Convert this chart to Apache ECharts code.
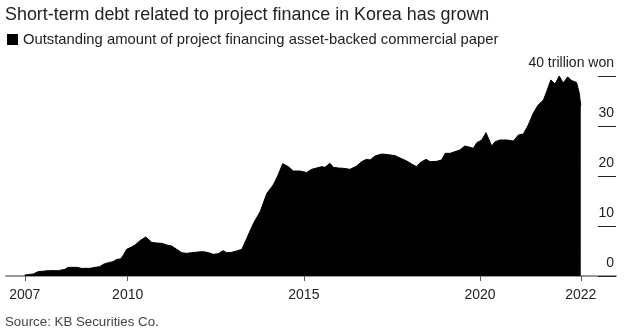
<!DOCTYPE html>
<html>
<head>
<meta charset="utf-8">
<script src="https://cdn.jsdelivr.net/npm/echarts@6/dist/echarts.min.js"></script>
<style>
html,body{margin:0;padding:0;background:#fff;}
#chart{width:626px;height:333px;}
</style>
</head>
<body>
<div id="chart"></div>
<script>
const titleText = "Short-term debt related to project finance in Korea has grown";
const legendText = "Outstanding amount of project financing asset-backed commercial paper";
const sourceText = "Source: KB Securities Co.";

const years = [2007.08,2007.32,2007.46,2007.75,2008.03,2008.22,2008.31,2008.55,2008.69,2008.93,
  2009.07,2009.21,2009.31,2009.45,2009.59,2009.69,2009.80,2009.88,2009.97,2010.11,
  2010.21,2010.35,2010.51,2010.58,2010.68,2010.82,2010.97,2011.11,2011.25,2011.39,
  2011.53,2011.67,2011.82,2011.86,2012.00,2012.15,2012.29,2012.43,2012.57,2012.71,
  2012.81,2012.95,2013.09,2013.24,2013.38,2013.57,2013.76,2013.95,2014.13,2014.27,
  2014.40,2014.56,2014.70,2014.89,2015.08,2015.22,2015.36,2015.51,2015.60,2015.74,
  2015.84,2015.98,2016.12,2016.31,2016.50,2016.64,2016.78,2016.88,2017.02,2017.21,
  2017.40,2017.59,2017.73,2017.92,2018.06,2018.20,2018.30,2018.47,2018.58,2018.77,
  2018.91,2019.01,2019.15,2019.29,2019.43,2019.57,2019.72,2019.81,2019.91,2020.05,
  2020.17,2020.33,2020.43,2020.57,2020.76,2020.95,2021.09,2021.23,2021.37,2021.51,
  2021.65,2021.80,2021.89,2022.01,2022.13,2022.25,2022.36,2022.49,2022.60,2022.74,
  2022.82,2022.86];
const values = [0.2,0.4,0.87,1.07,1.07,1.33,1.73,1.73,1.53,1.53,
  1.73,1.87,2.33,2.67,2.87,3.33,3.4,4.2,5.33,5.8,
  6.2,7.07,7.8,7.4,6.73,6.6,6.53,6.2,6.0,5.33,
  4.67,4.53,4.67,4.4,4.8,4.87,4.67,4.33,4.47,5.07,
  4.67,4.73,5.0,5.33,7.53,10.53,12.87,16.53,18.2,20.2,
  22.47,21.87,21.0,21.0,20.7,21.33,21.6,21.87,21.73,22.53,
  21.73,21.6,21.53,21.33,22.0,22.87,23.33,23.2,24.0,24.4,
  24.27,24.07,23.6,23.0,22.4,21.87,22.67,23.33,22.87,22.93,
  23.2,24.53,24.53,24.87,25.2,26.0,25.73,25.53,26.67,27.2,
  28.67,26.0,26.87,27.2,27.2,27.0,28.2,28.4,30.2,32.53,
  34.2,35.2,36.87,39.2,38.4,40.0,38.6,39.8,39.1,38.7,
  36.5,34.0];

const xTickValues = [2007.08, 2010, 2015, 2020, 2022.86];
const xTickLabels = ["2007", "2010", "2015", "2020", "2022"];
const yTickValues = [0, 10, 20, 30, 40];
const yTickLabels = ["0", "10", "20", "30", "40 trillion won"];

const data = years.map((y, i) => [y, values[i]]);
const FONT = "'Liberation Sans', Arial, sans-serif";

const chart = echarts.init(document.getElementById('chart'), null, {renderer: 'canvas'});
chart.setOption({
  animation: false,
  backgroundColor: '#fff',
  grid: {left: 6, right: 10, top: 76, bottom: 57, containLabel: false},
  title: [
    {text: titleText, left: 5, top: 6, padding: 0,
     textStyle: {fontFamily: FONT, fontSize: 17.9, fontWeight: 'normal', color: '#222'}},
    {text: legendText, left: 23, top: 32, padding: 0,
     textStyle: {fontFamily: FONT, fontSize: 14.8, fontWeight: 'normal', color: '#222'}},
    {text: sourceText, left: 5, top: 316, padding: 0,
     textStyle: {fontFamily: FONT, fontSize: 13.3, fontWeight: 'normal', color: '#444'}}
  ],
  graphic: [
    {type: 'rect', shape: {x: 7, y: 34, width: 11, height: 11}, style: {fill: '#000'}}
  ],
  xAxis: {
    type: 'value', min: 2006.546, max: 2023.86,
    axisLine: {show: true, lineStyle: {color: '#999', width: 2}},
    axisTick: {show: true, customValues: xTickValues, length: 5, lineStyle: {color: '#555', width: 1}},
    axisLabel: {
      show: true, customValues: xTickValues, margin: 12,
      fontFamily: FONT, fontSize: 14, color: '#222',
      formatter: function (v) { const i = xTickValues.indexOf(v); return i >= 0 ? xTickLabels[i] : ''; }
    },
    splitLine: {show: false}
  },
  yAxis: {
    type: 'value', position: 'right', min: 0, max: 40, interval: 10,
    axisLine: {show: false},
    axisTick: {show: true, inside: true, length: 18, lineStyle: {color: '#222', width: 1}},
    axisLabel: {
      show: true, inside: true, margin: 2,
      fontFamily: FONT, fontSize: 14, color: '#222',
      verticalAlign: 'bottom', lineHeight: 14, padding: [0, 0, 6, 0],
      formatter: function (v) { const i = yTickValues.indexOf(v); return i >= 0 ? yTickLabels[i] : ''; }
    },
    splitLine: {show: false}
  },
  series: [{
    type: 'line', data: data, showSymbol: false, smooth: false,
    lineStyle: {color: '#000', width: 1},
    areaStyle: {color: '#000', opacity: 1},
    itemStyle: {color: '#000'},
    z: 3
  }]
});
</script>
</body>
</html>
